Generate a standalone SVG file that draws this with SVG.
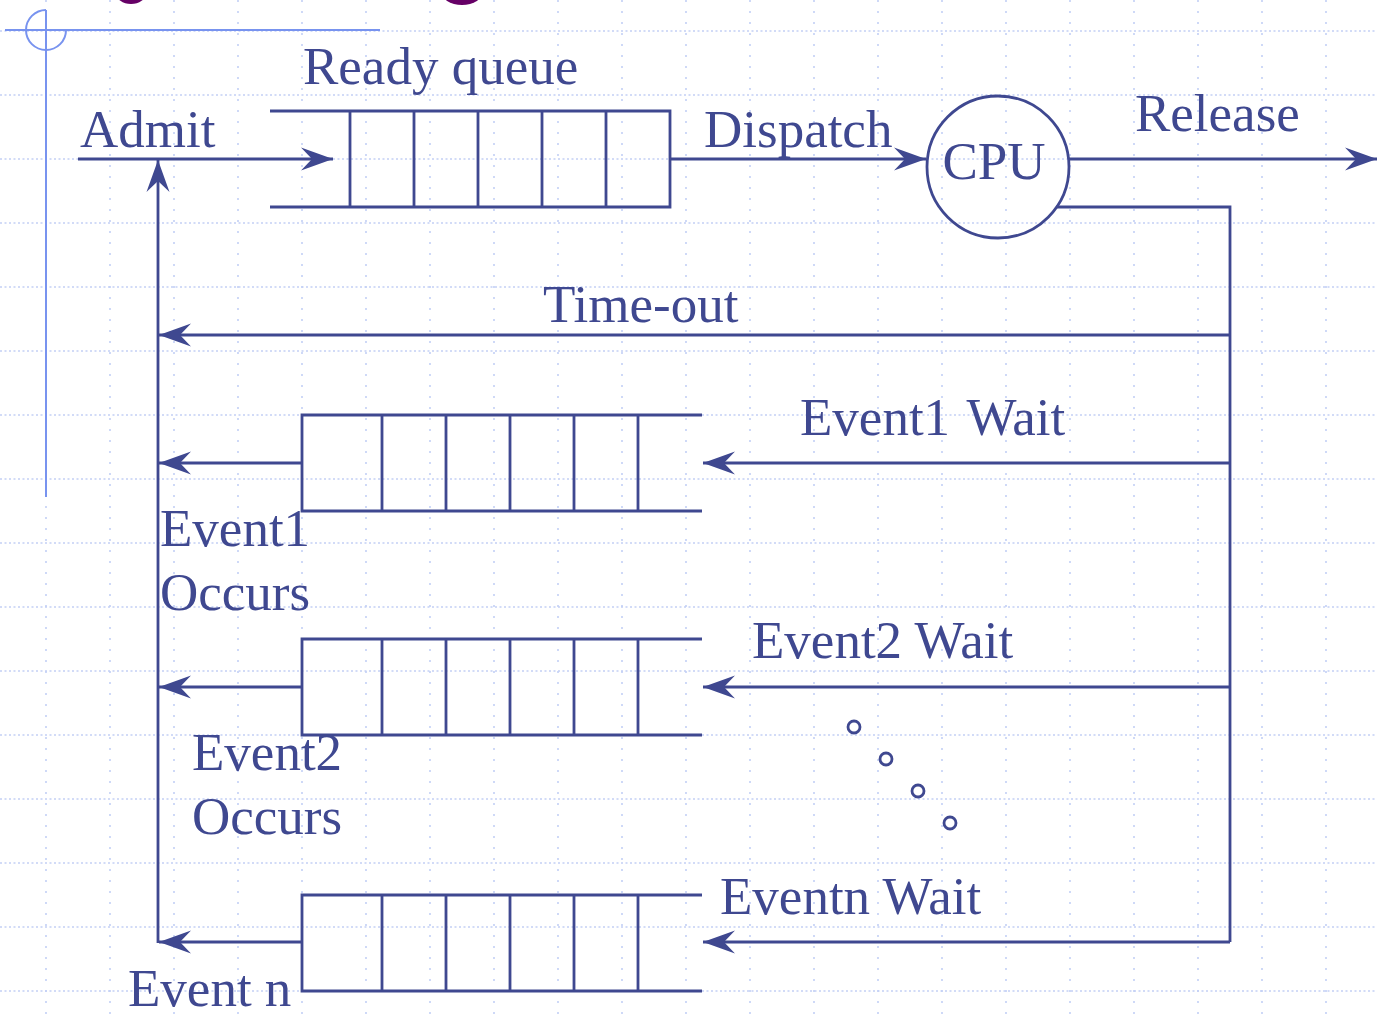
<svg xmlns="http://www.w3.org/2000/svg" width="1377" height="1016" viewBox="0 0 1377 1016">
<defs>
<style>
.gh{stroke:#c3d0f5;stroke-width:1.6;stroke-dasharray:2 2.5;fill:none}
.gv{stroke:#c3d0f5;stroke-width:1.6;stroke-dasharray:2 9;fill:none}
.ln{stroke:#3f4890;stroke-width:2.8;fill:none}
.q{stroke:#3f4890;stroke-width:2.8;fill:none}
.lbl{font-family:"Liberation Serif","Times New Roman",serif;font-size:53px;fill:#3f4890;white-space:pre}
.xh{stroke:#7893ef;stroke-width:2;fill:none}
</style>
<marker id="ah" markerUnits="userSpaceOnUse" viewBox="-33 -13 34 26" refX="0" refY="0" markerWidth="34" markerHeight="26" orient="auto">
<path d="M0,0 L-32,-11.5 L-21,0 L-32,11.5 Z" fill="#3f4890"/>
</marker>
</defs>
<rect width="1377" height="1016" fill="#ffffff"/>
<g id="grid">
<path class="gh" d="M0,31H1377M0,95H1377M0,159H1377M0,223H1377M0,287H1377M0,351H1377M0,415H1377M0,479H1377M0,543H1377M0,607H1377M0,671H1377M0,735H1377M0,799H1377M0,863H1377M0,927H1377M0,991H1377"/>
<path class="gv" d="M46,0V1016M110,0V1016M174,0V1016M238,0V1016M302,0V1016M366,0V1016M430,0V1016M494,0V1016M558,0V1016M622,0V1016M686,0V1016M750,0V1016M814,0V1016M878,0V1016M942,0V1016M1006,0V1016M1070,0V1016M1134,0V1016M1198,0V1016M1262,0V1016M1326,0V1016"/>
</g>
<g id="title-fragments" fill="#660066">
<ellipse cx="131" cy="-7" rx="15" ry="11"/>
<ellipse cx="462" cy="-9" rx="21" ry="14"/>
</g>
<g id="crosshair">
<path class="xh" d="M5,30H380M46,10V497"/>
<path class="xh" d="M46,10 A20,20 0 1 0 66,30"/>
</g>
<g id="connectors">
<path class="ln" d="M78,159H333" marker-end="url(#ah)"/>
<path class="ln" d="M670,159H926" marker-end="url(#ah)"/>
<path class="ln" d="M1069,159H1377" marker-end="url(#ah)"/>
<path class="ln" d="M1056,207H1230V942"/>
<path class="ln" d="M1230,335H159" marker-end="url(#ah)"/>
<path class="ln" d="M1230,463H703" marker-end="url(#ah)"/>
<path class="ln" d="M1230,687H703" marker-end="url(#ah)"/>
<path class="ln" d="M1230,942H703" marker-end="url(#ah)"/>
<path class="ln" d="M302,463H159" marker-end="url(#ah)"/>
<path class="ln" d="M302,687H159" marker-end="url(#ah)"/>
<path class="ln" d="M302,942H159" marker-end="url(#ah)"/>
<path class="ln" d="M158,943V160" marker-end="url(#ah)"/>
</g>
<g id="ready-queue">
<path class="q" d="M270,111H670V207H270M350,111V207M414,111V207M478,111V207M542,111V207M606,111V207"/>
</g>
<g id="cpu">
<circle cx="998" cy="167" r="71" class="q"/>
<text class="lbl" x="994" y="179" text-anchor="middle">CPU</text>
</g>
<g id="event1-queue">
<path class="q" d="M702,415H302V511H702M382,415V511M446,415V511M510,415V511M574,415V511M638,415V511"/>
</g>
<g id="event2-queue">
<path class="q" d="M702,639H302V735H702M382,639V735M446,639V735M510,639V735M574,639V735M638,639V735"/>
</g>
<g id="eventn-queue">
<path class="q" d="M702,895H302V991H702M382,895V991M446,895V991M510,895V991M574,895V991M638,895V991"/>
</g>
<g id="ellipsis" fill="none" stroke="#3f4890" stroke-width="2.8">
<circle cx="854" cy="727" r="6"/>
<circle cx="886" cy="759" r="6"/>
<circle cx="918" cy="791" r="6"/>
<circle cx="950" cy="823" r="6"/>
</g>
<g id="labels">
<text class="lbl" x="303" y="84">Ready queue</text>
<text class="lbl" x="80" y="147">Admit</text>
<text class="lbl" x="704" y="147">Dispatch</text>
<text class="lbl" x="1135" y="131">Release</text>
<text class="lbl" x="543" y="322">Time-out</text>
<text class="lbl" x="800" y="435" word-spacing="4">Event1 Wait</text>
<text class="lbl" x="160" y="546">Event1</text>
<text class="lbl" x="160" y="610">Occurs</text>
<text class="lbl" x="752" y="658">Event2 Wait</text>
<text class="lbl" x="192" y="770">Event2</text>
<text class="lbl" x="192" y="834">Occurs</text>
<text class="lbl" x="720" y="914">Eventn Wait</text>
<text class="lbl" x="128" y="1006">Event n</text>
</g>
</svg>
